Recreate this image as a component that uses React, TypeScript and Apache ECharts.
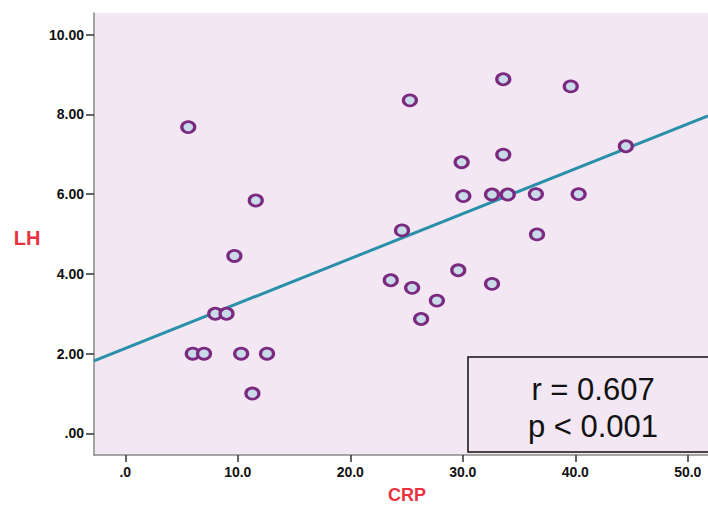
import React, { useEffect, useRef } from "react";
import * as echarts from "echarts";

const crp = [5.6, 6.0, 7.0, 8.0, 9.0, 9.7, 10.3, 11.6, 11.3, 12.6, 23.6, 24.6, 25.3, 25.5, 26.3, 27.7, 29.6, 29.9, 30.05, 32.6, 32.6, 33.6, 33.6, 34.0, 36.6, 36.5, 39.6, 40.3, 44.5];
const lh = [7.68, 2.0, 2.0, 3.0, 3.0, 4.45, 2.0, 5.84, 1.0, 2.0, 3.84, 5.09, 8.35, 3.65, 2.87, 3.33, 4.09, 6.8, 5.95, 3.75, 5.99, 8.88, 6.99, 5.99, 4.99, 6.0, 8.7, 6.0, 7.2];
const fitX = [-2.78, 51.8];
const fitY = [1.82, 7.96];
const xTicks = [0, 10, 20, 30, 40, 50];
const yTicks = [0, 2, 4, 6, 8, 10];
const statLines = ["r = 0.607", "p < 0.001"];

export default function App() {
  const ref = useRef<HTMLDivElement>(null);
  useEffect(() => {
    if (!ref.current) return;
    const chart = echarts.init(ref.current, null, { renderer: "svg" });
    const font = "Liberation Sans, Arial, sans-serif";
    chart.setOption({
      animation: false,
      backgroundColor: "#ffffff",
      grid: {
        left: 94,
        top: 13,
        right: 0,
        bottom: 51,
        show: true,
        backgroundColor: "#f3e7f4",
        borderWidth: 0,
      },
      xAxis: {
        type: "value",
        min: fitX[0],
        max: fitX[1],
        splitLine: { show: false },
        axisLine: { show: true, onZero: false, lineStyle: { color: "#8a8a8a", width: 1.5 } },
        axisTick: { show: true, length: 7, customValues: xTicks, lineStyle: { color: "#333", width: 1.5 } },
        axisLabel: {
          customValues: xTicks,
          margin: 10,
          color: "#111",
          fontWeight: "bold",
          fontSize: 14,
          fontFamily: font,
          formatter: (v: number) => (v === 0 ? ".0" : v.toFixed(1)),
        },
      },
      yAxis: {
        type: "value",
        min: -0.54,
        max: 10.54,
        splitLine: { show: false },
        axisLine: { show: true, onZero: false, lineStyle: { color: "#8a8a8a", width: 1.5 } },
        axisTick: { show: true, length: 8, customValues: yTicks, lineStyle: { color: "#333", width: 1.5 } },
        axisLabel: {
          customValues: yTicks,
          margin: 10,
          color: "#111",
          fontWeight: "bold",
          fontSize: 14,
          fontFamily: font,
          formatter: (v: number) => (v === 0 ? ".00" : v.toFixed(2)),
        },
      },
      series: [
        {
          type: "line",
          data: fitX.map((x, i) => [x, fitY[i]]),
          symbol: "none",
          lineStyle: { color: "#2a90aa", width: 3 },
          z: 2,
        },
        {
          type: "scatter",
          data: crp.map((x, i) => [x, lh[i]]),
          symbol: "circle",
          symbolSize: [13, 11],
          itemStyle: { color: "#c9dbe9", borderColor: "#7b2a80", borderWidth: 3, opacity: 1 },
          z: 3,
        },
      ],
      graphic: [
        {
          type: "rect",
          shape: { x: 468, y: 357, width: 260, height: 95 },
          style: { fill: "#f3e7f4", stroke: "#111", lineWidth: 1.5 },
          z: 10,
        },
        {
          type: "text",
          x: 593,
          y: 389,
          style: { text: statLines[0], font: `31px ${font}`, fill: "#111", align: "center", verticalAlign: "middle" },
          z: 11,
        },
        {
          type: "text",
          x: 593,
          y: 426,
          style: { text: statLines[1], font: `31px ${font}`, fill: "#111", align: "center", verticalAlign: "middle" },
          z: 11,
        },
        {
          type: "text",
          x: 27,
          y: 238,
          style: { text: "LH", font: `bold 20px ${font}`, fill: "#e8333f", align: "center", verticalAlign: "middle" },
        },
        {
          type: "text",
          x: 407,
          y: 495,
          style: { text: "CRP", font: `bold 18px ${font}`, fill: "#e8333f", align: "center", verticalAlign: "middle" },
        },
      ],
    });
    return () => chart.dispose();
  }, []);
  return <div ref={ref} style={{ position: "fixed", left: 0, top: 0, width: 708, height: 506 }} />;
}
